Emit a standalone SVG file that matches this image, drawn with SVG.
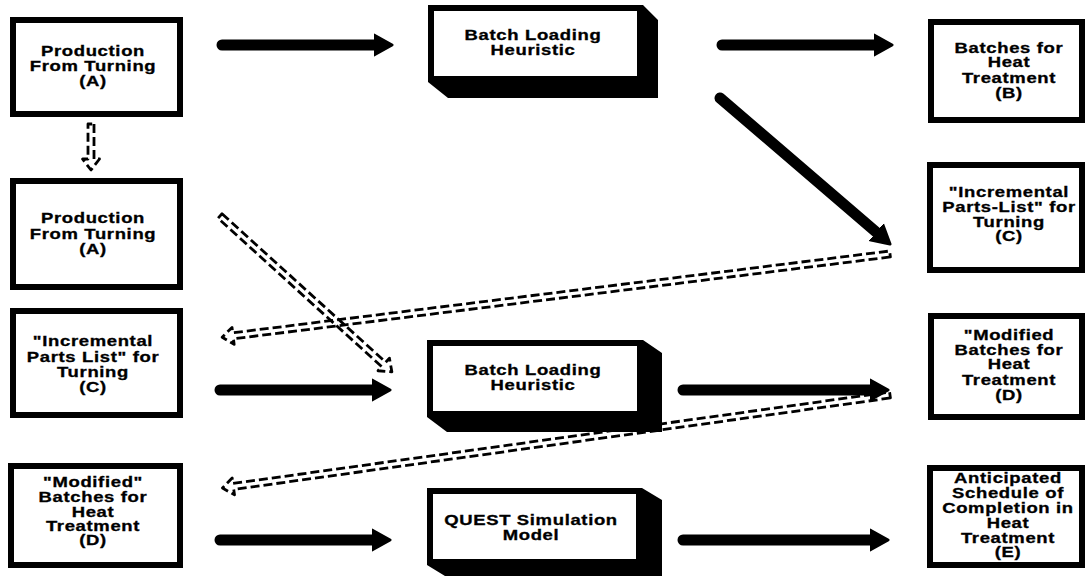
<svg xmlns="http://www.w3.org/2000/svg" width="1090" height="581" viewBox="0 0 1090 581">
<style>
  .box { fill: #fff; stroke: #000; stroke-width: 6; }
  .ext { fill: #000; }
  .t { font-family: "Liberation Sans", Arial, sans-serif; font-weight: bold; font-size: 14px; letter-spacing: 0.5px; text-anchor: middle; fill: #000; stroke: #000; stroke-width: 0.3; }
  .solid { stroke: #000; stroke-width: 11; stroke-linecap: round; fill: none; marker-end: url(#ah); }
  .dash { fill: none; stroke: #000; stroke-width: 2.8; stroke-dasharray: 9 4; stroke-linejoin: round; }
</style>
<defs>
  <marker id="ah" markerUnits="userSpaceOnUse" markerWidth="24" markerHeight="26" viewBox="0 -13 24 26" refX="1" refY="0" orient="auto">
    <path d="M0,-10 L18,0 L0,10 Z" fill="#000" stroke="#000" stroke-width="3" stroke-linejoin="round"/>
  </marker>
</defs>
<rect width="1090" height="581" fill="#fff"/>

<g id="connectors">
  <line class="solid" x1="222" y1="45" x2="375" y2="45"/>
  <line class="solid" x1="722" y1="45" x2="875" y2="45"/>
  <line class="solid" x1="720" y1="98" x2="877.1" y2="232.9"/>
  <line class="solid" x1="220" y1="390" x2="373" y2="390"/>
  <line class="solid" x1="683" y1="390" x2="871" y2="390"/>
  <line class="solid" x1="220" y1="540" x2="373" y2="540"/>
  <line class="solid" x1="683" y1="540" x2="871" y2="540"/>
  <path class="dash" transform="translate(91,124) rotate(90)" d="M0,-3 H35 V-8.5 L46,0 L35,8.5 V3 H0 Z"/>
  <path class="dash" transform="translate(220,216) rotate(42.2)" d="M0,-3 H221 V-8.5 L232,0 L221,8.5 V3 H0 Z"/>
  <path class="dash" transform="translate(890,254) rotate(172.9)" d="M0,-3 H662 V-8.5 L673,0 L662,8.5 V3 H0 Z"/>
  <path class="dash" transform="translate(890,395) rotate(172.07)" d="M0,-3 H663 V-8.5 L674,0 L663,8.5 V3 H0 Z"/>
</g>

<g id="node-prodA1">
  <rect class="box" x="13" y="20" width="167" height="94"/>
  <g class="t" transform="translate(93,0) scale(1.32,1)">
    <text x="0" y="56">Production</text>
    <text x="0" y="71">From Turning</text>
    <text x="0" y="86">(A)</text>
  </g>
</g>
<g id="node-prodA2">
  <rect class="box" x="13" y="181" width="167" height="106"/>
  <g class="t" transform="translate(93,0) scale(1.32,1)">
    <text x="0" y="223">Production</text>
    <text x="0" y="239">From Turning</text>
    <text x="0" y="254">(A)</text>
  </g>
</g>
<g id="node-incC-left">
  <rect class="box" x="13" y="311" width="167" height="104"/>
  <g class="t" transform="translate(93,0) scale(1.32,1)">
    <text x="0" y="346">"Incremental</text>
    <text x="0" y="362">Parts List" for</text>
    <text x="0" y="377">Turning</text>
    <text x="0" y="392">(C)</text>
  </g>
</g>
<g id="node-modD-left">
  <rect class="box" x="11" y="466" width="169" height="99"/>
  <g class="t" transform="translate(93,0) scale(1.32,1)">
    <text x="0" y="487">"Modified"</text>
    <text x="0" y="502">Batches for</text>
    <text x="0" y="517">Heat</text>
    <text x="0" y="531">Treatment</text>
    <text x="0" y="545">(D)</text>
  </g>
</g>

<g id="node-blh1">
  <polygon class="ext" points="428,82 448,98 658,98 658,20 643,5 643,82"/>
  <rect class="box" x="431" y="8" width="209" height="71"/>
  <g class="t" transform="translate(533,0) scale(1.32,1)">
    <text x="0" y="40">Batch Loading</text>
    <text x="0" y="55">Heuristic</text>
  </g>
</g>
<g id="node-blh2">
  <polygon class="ext" points="427,417 447,432 662,432 662,353 643,340 643,417"/>
  <rect class="box" x="430" y="343" width="210" height="71"/>
  <g class="t" transform="translate(533,0) scale(1.32,1)">
    <text x="0" y="375">Batch Loading</text>
    <text x="0" y="390">Heuristic</text>
  </g>
</g>
<g id="node-quest">
  <polygon class="ext" points="427,565 445,576 662,576 662,500 642,488 642,565"/>
  <rect class="box" x="430" y="491" width="209" height="71"/>
  <g class="t" transform="translate(531,0) scale(1.32,1)">
    <text x="0" y="525">QUEST Simulation</text>
    <text x="0" y="540">Model</text>
  </g>
</g>

<g id="node-batchesB">
  <rect class="box" x="931" y="22" width="151" height="98"/>
  <g class="t" transform="translate(1009,0) scale(1.32,1)">
    <text x="0" y="53">Batches for</text>
    <text x="0" y="67">Heat</text>
    <text x="0" y="83">Treatment</text>
    <text x="0" y="98">(B)</text>
  </g>
</g>
<g id="node-incC-right">
  <rect class="box" x="930" y="165" width="152" height="105"/>
  <g class="t" transform="translate(1009,0) scale(1.32,1)">
    <text x="0" y="197">"Incremental</text>
    <text x="0" y="212">Parts-List" for</text>
    <text x="0" y="227">Turning</text>
    <text x="0" y="241">(C)</text>
  </g>
</g>
<g id="node-modD-right">
  <rect class="box" x="931" y="316" width="151" height="101"/>
  <g class="t" transform="translate(1009,0) scale(1.32,1)">
    <text x="0" y="340">"Modified</text>
    <text x="0" y="355">Batches for</text>
    <text x="0" y="369">Heat</text>
    <text x="0" y="385">Treatment</text>
    <text x="0" y="400">(D)</text>
  </g>
</g>
<g id="node-scheduleE">
  <rect class="box" x="930" y="468" width="152" height="97"/>
  <g class="t" transform="translate(1008,0) scale(1.32,1)">
    <text x="0" y="483">Anticipated</text>
    <text x="0" y="498">Schedule of</text>
    <text x="0" y="513">Completion in</text>
    <text x="0" y="528">Heat</text>
    <text x="0" y="543">Treatment</text>
    <text x="0" y="557">(E)</text>
  </g>
</g>
</svg>
